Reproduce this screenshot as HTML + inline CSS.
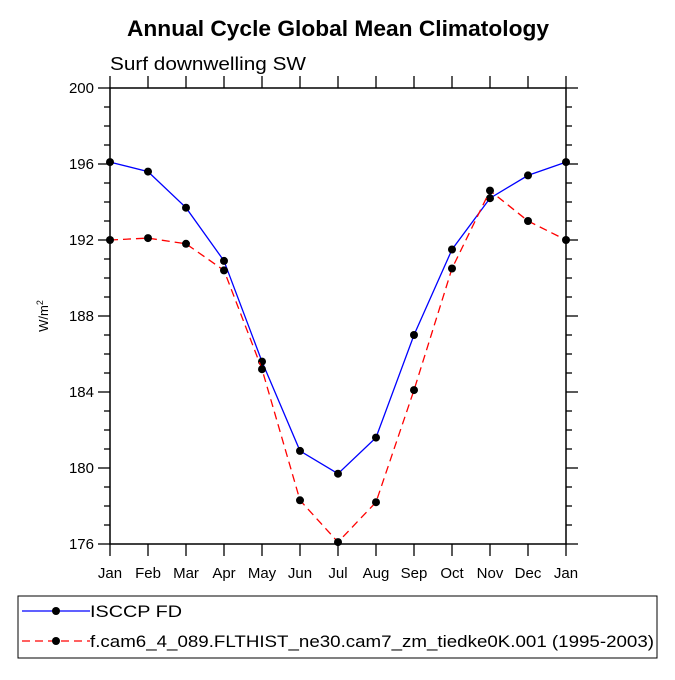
<!DOCTYPE html>
<html><head><meta charset="utf-8"><style>
body{margin:0;background:#fff;}
svg text{font-family:"Liberation Sans",sans-serif;}
</style></head><body>
<svg id="chart" width="675" height="675" xmlns="http://www.w3.org/2000/svg">
<text x="127" y="36" textLength="422" lengthAdjust="spacingAndGlyphs" font-size="22" font-weight="bold">Annual Cycle Global Mean Climatology</text>
<text x="110" y="70" textLength="196" lengthAdjust="spacingAndGlyphs" font-size="18">Surf downwelling SW</text>
<text transform="translate(48,316) rotate(-90)" text-anchor="middle" font-size="13">W/m<tspan dy="-5" font-size="9">2</tspan></text>
<g id="axes"></g>
<g id="series"></g>
<g>
<rect x="18" y="596" width="639" height="62" fill="none" stroke="#000" stroke-width="1"/>
<line x1="22" y1="611" x2="90" y2="611" stroke="#00f" stroke-width="1.3"/>
<circle cx="56" cy="611" r="4" fill="#000"/>
<text x="90" y="617" textLength="92" lengthAdjust="spacingAndGlyphs" font-size="17">ISCCP FD</text>
<line x1="22" y1="641" x2="90" y2="641" stroke="#f00" stroke-width="1.3" stroke-dasharray="8,5"/>
<circle cx="56" cy="641" r="4" fill="#000"/>
<text x="90" y="647" textLength="564" lengthAdjust="spacingAndGlyphs" font-size="17">f.cam6_4_089.FLTHIST_ne30.cam7_zm_tiedke0K.001 (1995-2003)</text>
</g>
</svg>
<script>
const months=["Jan","Feb","Mar","Apr","May","Jun","Jul","Aug","Sep","Oct","Nov","Dec","Jan"];
const isccp=[196.1,195.6,193.7,190.9,185.6,180.9,179.7,181.6,187.0,191.5,194.2,195.4,196.1];
const model=[192.0,192.1,191.8,190.4,185.2,178.3,176.1,178.2,184.1,190.5,194.6,193.0,192.0];
const yTicks=[176,180,184,188,192,196,200];
const L=110,R=566,T=88,B=544,yMin=176,yMax=200;
const xs=i=>L+(R-L)*i/(months.length-1);
const ys=v=>B-(B-T)*(v-yMin)/(yMax-yMin);
const NS="http://www.w3.org/2000/svg";
function mk(t,a,p){const e=document.createElementNS(NS,t);for(const k in a)e.setAttribute(k,a[k]);p.appendChild(e);return e;}
const ax=document.getElementById('axes');
const fr=mk('rect',{x:L,y:T,width:R-L,height:B-T,fill:'none',stroke:'#000','stroke-width':1.5},ax);


for(let v=yMin;v<=yMax;v++){const y=ys(v);const len=(v%4===0)?12:6;
mk('line',{x1:L,y1:y,x2:L-len,y2:y,stroke:'#000','stroke-width':1.3},ax);
mk('line',{x1:R,y1:y,x2:R+len,y2:y,stroke:'#000','stroke-width':1.3},ax);}
yTicks.forEach(v=>{const t=mk('text',{x:L-16,y:ys(v)+5,'text-anchor':'end','font-size':15},ax);t.textContent=v;

});
months.forEach((m,i)=>{const x=xs(i);
mk('line',{x1:x,y1:B,x2:x,y2:B+12,stroke:'#000','stroke-width':1.3},ax);
mk('line',{x1:x,y1:T,x2:x,y2:T-12,stroke:'#000','stroke-width':1.3},ax);
const t=mk('text',{x:x,y:B+34,'text-anchor':'middle','font-size':15},ax);t.textContent=m;

});
const sg=document.getElementById('series');
function series(d,col,dash,name){
const p=mk('polyline',{points:d.map((v,i)=>xs(i)+','+ys(v)).join(' '),fill:'none',stroke:col,'stroke-width':1.3,'stroke-dasharray':dash},sg);


d.forEach((v,i)=>{const c=mk('circle',{cx:xs(i),cy:ys(v),r:4,fill:'#000'},sg);

});}
series(isccp,'#00f','none','isccp');
series(model,'#f00','8,5','model');
</script>
</body></html>
